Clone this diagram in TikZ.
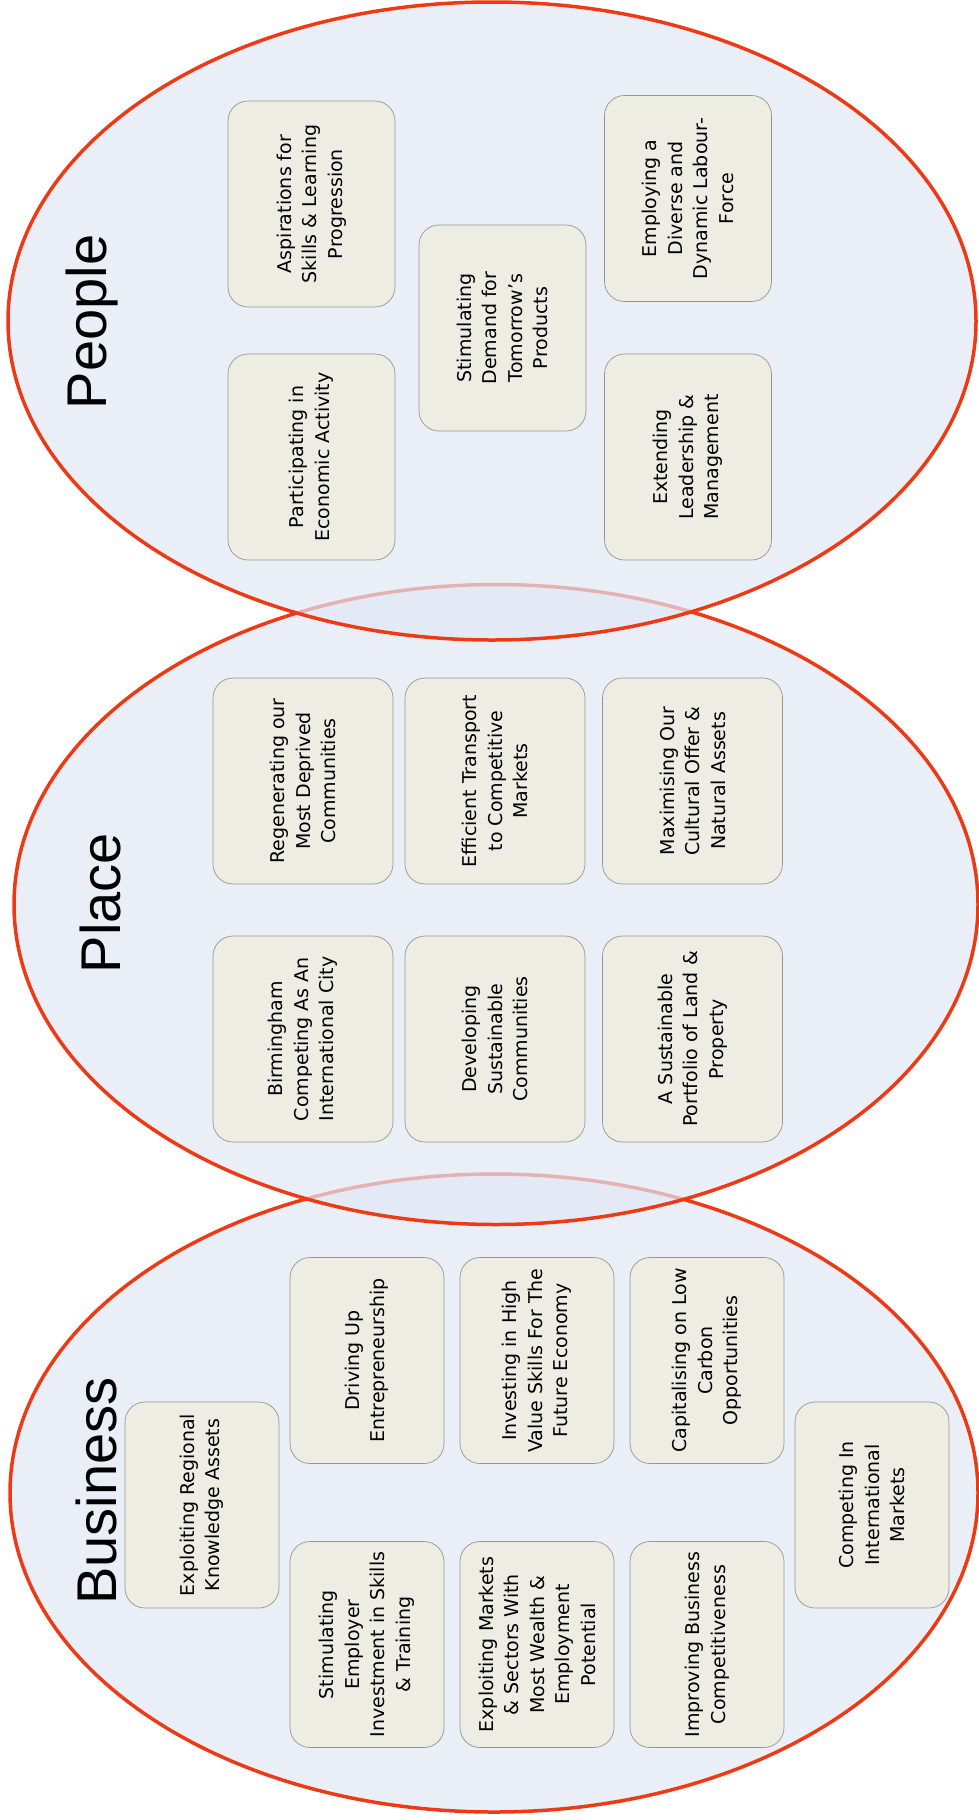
\documentclass[tikz,border=0pt]{standalone}
\usepackage{fontspec}
\setmainfont{DejaVu Sans}
\newfontfamily\headfont{Liberation Sans}
\definecolor{ringred}{RGB}{238,58,20}
\definecolor{ringfill}{RGB}{224,231,244}
\definecolor{cardfill}{RGB}{237,237,227}
\definecolor{cardline}{RGB}{150,150,140}
\begin{document}
\begin{tikzpicture}[x=1pt,y=-1pt,line join=round,
  ring/.style={draw=ringred,line width=3.5pt,fill=ringfill,fill opacity=0.7},
  card/.style={draw=cardline,line width=0.7pt,fill=cardfill,rounded corners=20pt,
    rotate=90,align=center,minimum height=#1,minimum width=206pt,inner sep=3pt,
    font=\fontsize{19}{25.5}\selectfont},
  card/.default=167pt,
  head/.style={rotate=90,inner sep=0pt,font=\headfont\fontsize{56}{62}\selectfont}]
  \useasboundingbox (0,0) rectangle (978,1820);

  \path[ring] (494,1493) ellipse [x radius=484pt, y radius=319pt];
  \path[ring] (496,904.5) ellipse [x radius=482pt, y radius=320pt];
  \path[ring] (492,321) ellipse [x radius=484pt, y radius=319pt];

  \node[head] (people) at (92,322) {People};
  \node[card] (asp) at (311.5,204) {Aspirations for\\Skills \& Learning\\Progression};
  \node[card] (par) at (311.5,457) {Participating in\\Economic Activity};
  \node[card] (dem) at (502.5,328) {Stimulating\\Demand for\\Tomorrow’s\\Products};
  \node[card] (emp) at (688,198.5) {Employing a\\Diverse and\\Dynamic Labour-\\Force};
  \node[card] (lead) at (688,457) {Extending\\Leadership \&\\Management};

  \node[head] (place) at (100,903) {Place};
  \node[card=180pt] (regen) at (303,781) {Regenerating our\\Most Deprived\\Communities};
  \node[card=180pt] (trans) at (495,781) {Efficient Transport\\to Competitive\\Markets};
  \node[card=180pt] (cult) at (692.5,781) {Maximising Our\\Cultural Offer \&\\Natural Assets};
  \node[card=180pt] (brum) at (303,1039) {Birmingham\\Competing As An\\International City};
  \node[card=180pt] (devel) at (495,1039) {Developing\\Sustainable\\Communities};
  \node[card=180pt] (land) at (692.5,1039) {A Sustainable\\Portfolio of Land \&\\Property};

  \node[head] (business) at (96,1491) {Business};
  \node[card=154pt] (know) at (202,1505) {Exploiting Regional\\Knowledge Assets};
  \node[card=154pt] (entre) at (367,1360.5) {Driving Up\\Entrepreneurship};
  \node[card=154pt] (high) at (537,1360.5) {Investing in High\\Value Skills For The\\Future Economy};
  \node[card=154pt] (carb) at (707,1360.5) {Capitalising on Low\\Carbon\\Opportunities};
  \node[card=154pt] (train) at (367,1644.5) {Stimulating\\Employer\\Investment in Skills\\\& Training};
  \node[card=154pt] (mkts) at (537,1644.5) {Exploiting Markets\\\& Sectors With\\Most Wealth \&\\Employment\\Potential};
  \node[card=154pt] (comp) at (707,1644.5) {Improving Business\\Competitiveness};
  \node[card=154pt] (intl) at (872,1505) {Competing In\\International\\Markets};
\end{tikzpicture}
\end{document}
